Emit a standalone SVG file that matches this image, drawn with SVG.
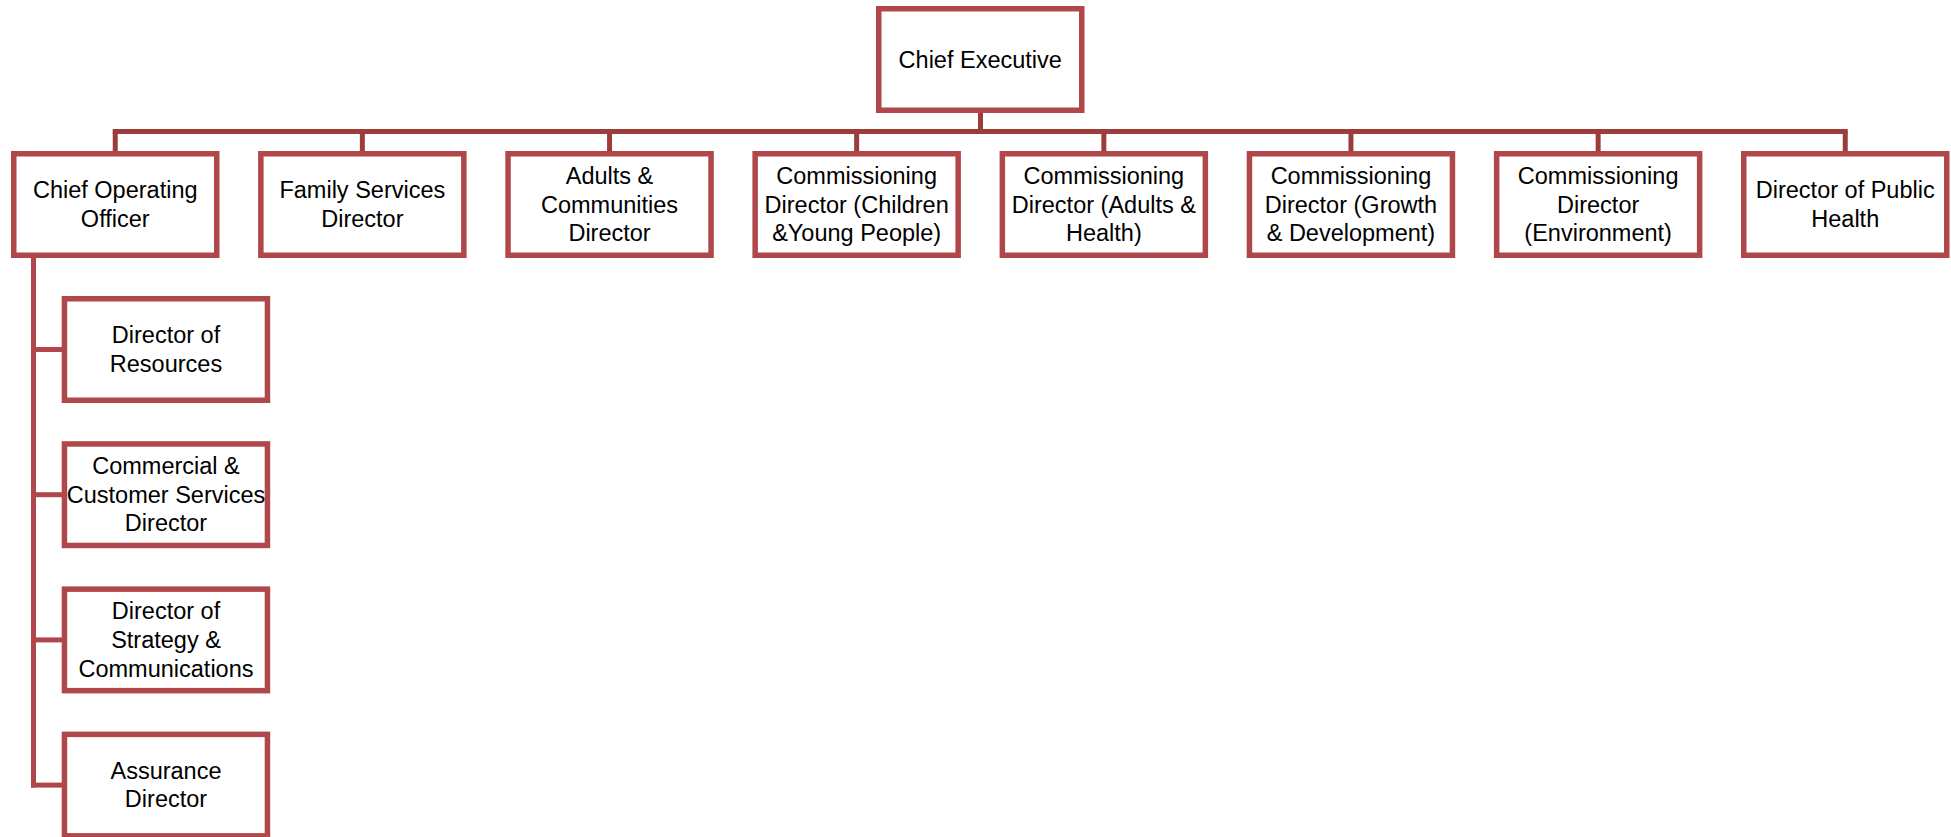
<svg xmlns="http://www.w3.org/2000/svg" width="1951" height="837" viewBox="0 0 1951 837">
<style>
.box{fill:#ffffff;stroke:#B0474A;stroke-width:5.5}
.main{stroke:#9C3D3C;stroke-width:5;fill:none}
.sub{stroke:#B0474A;stroke-width:5;fill:none}
text{font-family:"Liberation Sans",Arial,sans-serif;font-size:23.5px;fill:#000;text-anchor:middle}
</style>
<rect width="1951" height="837" fill="#ffffff"/>
<g id="connectors">
<line class="main" x1="980.5" y1="112" x2="980.5" y2="131.5"/>
<line class="main" x1="112.75" y1="131.5" x2="1847.75" y2="131.5"/>
<line class="main" x1="115.25" y1="131.5" x2="115.25" y2="152"/>
<line class="main" x1="362.35" y1="131.5" x2="362.35" y2="152"/>
<line class="main" x1="609.55" y1="131.5" x2="609.55" y2="152"/>
<line class="main" x1="856.65" y1="131.5" x2="856.65" y2="152"/>
<line class="main" x1="1103.85" y1="131.5" x2="1103.85" y2="152"/>
<line class="main" x1="1350.95" y1="131.5" x2="1350.95" y2="152"/>
<line class="main" x1="1598.15" y1="131.5" x2="1598.15" y2="152"/>
<line class="main" x1="1845.25" y1="131.5" x2="1845.25" y2="152"/>
<line class="sub" x1="33.5" y1="257" x2="33.5" y2="787.6"/>
<line class="sub" x1="31" y1="349.5" x2="63" y2="349.5"/>
<line class="sub" x1="31" y1="494.7" x2="63" y2="494.7"/>
<line class="sub" x1="31" y1="639.9" x2="63" y2="639.9"/>
<line class="sub" x1="31" y1="785.1" x2="63" y2="785.1"/>
</g>
<g id="chief-executive">
<rect class="box" x="878.75" y="8.75" width="203" height="101.5"/>
<text x="980.25" y="68">Chief Executive</text>
</g>
<g id="chief-operating-officer">
<rect class="box" x="13.75" y="153.75" width="203" height="101.5"/>
<text x="115.25" y="198.15">Chief Operating</text>
<text x="115.25" y="226.85">Officer</text>
</g>
<g id="family-services-director">
<rect class="box" x="260.85" y="153.75" width="203" height="101.5"/>
<text x="362.35" y="198.15">Family Services</text>
<text x="362.35" y="226.85">Director</text>
</g>
<g id="adults-communities-director">
<rect class="box" x="508.05" y="153.75" width="203" height="101.5"/>
<text x="609.55" y="183.8">Adults &amp;</text>
<text x="609.55" y="212.5">Communities</text>
<text x="609.55" y="241.2">Director</text>
</g>
<g id="commissioning-children">
<rect class="box" x="755.15" y="153.75" width="203" height="101.5"/>
<text x="856.65" y="183.8">Commissioning</text>
<text x="856.65" y="212.5">Director (Children</text>
<text x="856.65" y="241.2">&amp;Young People)</text>
</g>
<g id="commissioning-adults">
<rect class="box" x="1002.35" y="153.75" width="203" height="101.5"/>
<text x="1103.85" y="183.8">Commissioning</text>
<text x="1103.85" y="212.5">Director (Adults &amp;</text>
<text x="1103.85" y="241.2">Health)</text>
</g>
<g id="commissioning-growth">
<rect class="box" x="1249.45" y="153.75" width="203" height="101.5"/>
<text x="1350.95" y="183.8">Commissioning</text>
<text x="1350.95" y="212.5">Director (Growth</text>
<text x="1350.95" y="241.2">&amp; Development)</text>
</g>
<g id="commissioning-environment">
<rect class="box" x="1496.65" y="153.75" width="203" height="101.5"/>
<text x="1598.15" y="183.8">Commissioning</text>
<text x="1598.15" y="212.5">Director</text>
<text x="1598.15" y="241.2">(Environment)</text>
</g>
<g id="director-public-health">
<rect class="box" x="1743.75" y="153.75" width="203" height="101.5"/>
<text x="1845.25" y="198.15">Director of Public</text>
<text x="1845.25" y="226.85">Health</text>
</g>
<g id="director-resources">
<rect class="box" x="64.45" y="298.75" width="203" height="101.5"/>
<text x="166" y="343.15">Director of</text>
<text x="166" y="371.85">Resources</text>
</g>
<g id="commercial-customer-services">
<rect class="box" x="64.45" y="443.95" width="203" height="101.5"/>
<text x="166" y="474">Commercial &amp;</text>
<text x="166" y="502.7">Customer Services</text>
<text x="166" y="531.4">Director</text>
</g>
<g id="director-strategy">
<rect class="box" x="64.45" y="589.15" width="203" height="101.5"/>
<text x="166" y="619.2">Director of</text>
<text x="166" y="647.9">Strategy &amp;</text>
<text x="166" y="676.6">Communications</text>
</g>
<g id="assurance-director">
<rect class="box" x="64.45" y="734.35" width="203" height="101.5"/>
<text x="166" y="778.75">Assurance</text>
<text x="166" y="807.45">Director</text>
</g>
</svg>
